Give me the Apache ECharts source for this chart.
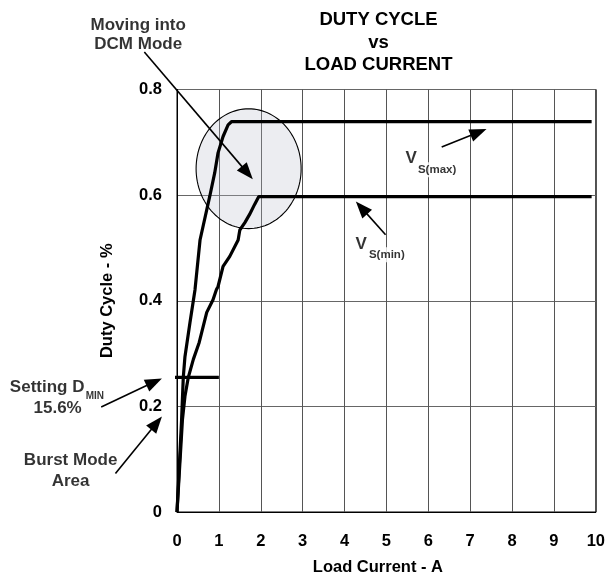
<!DOCTYPE html>
<html><head><meta charset="utf-8">
<script src="https://cdn.jsdelivr.net/npm/echarts@6/dist/echarts.min.js"></script>
<style>html,body{margin:0;padding:0;background:#fff}#c{width:608px;height:581px}</style>
</head><body><div id="c"></div><script>
// ---- data ----
const xTickLabels = ['0','1','2','3','4','5','6','7','8','9','10'];
const yTickLabels = ['0','0.2','0.4','0.6','0.8'];
const vmaxX = [0, 0.11, 0.15, 0.19, 0.31, 0.43, 0.55, 0.78, 0.90, 0.98, 1.10, 1.22, 1.30, 9.9];
const vmaxY = [0, 0.175, 0.255, 0.294, 0.359, 0.421, 0.515, 0.597, 0.642, 0.680, 0.711, 0.733, 0.739, 0.739];
const vminX = [0, 0.13, 0.19, 0.27, 0.39, 0.53, 0.59, 0.71, 0.86, 0.94, 0.98, 1.10, 1.26, 1.46, 1.50, 1.62, 1.73, 1.85, 1.95, 9.9];
const vminY = [0, 0.175, 0.219, 0.255, 0.289, 0.321, 0.340, 0.378, 0.402, 0.421, 0.427, 0.465, 0.484, 0.515, 0.534, 0.548, 0.563, 0.582, 0.597, 0.597];
const dminX = [-0.33, 1.0];
const dminY = [0.255, 0.255];
// DCM region ellipse: centre x, centre y, radius x, radius y (data units)
const dcmEllipse = [1.71, 0.650, 1.254, 0.1134];
// arrows: x1, y1, x2 (tip), y2 (tip) in data units
const arrows = [
  [-0.78, 0.871, 1.81, 0.630],
  [-1.81, 0.199, -0.36, 0.253],
  [-1.47, 0.073, -0.36, 0.181],
  [6.32, 0.691, 7.39, 0.725],
  [4.98, 0.525, 4.27, 0.588]
];
// annotation texts and anchors (data units)
const notes = [
  {text: 'Moving into\nDCM Mode', at: [-0.926, 0.904], size: 17, lh: 19.5, bg: false},
  {text: 'Setting D', at: [-3.10, 0.236], size: 17, lh: 20, bg: false},
  {text: 'MIN', at: [-1.96, 0.219], size: 10, lh: 12, bg: false},
  {text: '15.6%', at: [-2.85, 0.197], size: 17, lh: 20, bg: false},
  {text: 'Burst Mode\nArea', at: [-2.54, 0.078], size: 17, lh: 21, bg: false},
  {text: 'V', at: [5.59, 0.670], size: 17, lh: 18, bg: true},
  {text: 'S(max)', at: [6.21, 0.648], size: 11.5, lh: 13, bg: true},
  {text: 'V', at: [4.40, 0.506], size: 17, lh: 18, bg: true},
  {text: 'S(min)', at: [5.01, 0.487], size: 11.5, lh: 13, bg: true}
];
const titleText = 'DUTY CYCLE\nvs\nLOAD CURRENT';
const xName = 'Load Current - A';
const yName = 'Duty Cycle - %';

// ---- chart ----
const FONT = '"Liberation Sans", Arial, sans-serif';
const zip = (a, b) => a.map((v, i) => [v, b[i]]);
const chart = echarts.init(document.getElementById('c'), null, {renderer: 'canvas'});

function renderEllipse(params, api) {
  const c = api.coord([api.value(0), api.value(1)]);
  const sz = api.size([api.value(2), api.value(3)]);
  const rx = sz[0], ry = sz[1];
  const pts = [];
  for (let i = 0; i < 120; i++) {
    const t = i / 120 * Math.PI * 2;
    pts.push([c[0] + rx * Math.cos(t), c[1] + ry * Math.sin(t)]);
  }
  return {type: 'polygon', shape: {points: pts},
    style: {fill: 'rgba(185,190,202,0.27)', stroke: '#000', lineWidth: 1.1}};
}
function renderArrow(params, api) {
  const p1 = api.coord([api.value(0), api.value(1)]);
  const p2 = api.coord([api.value(2), api.value(3)]);
  const dx = p2[0] - p1[0], dy = p2[1] - p1[1];
  const L = Math.hypot(dx, dy), ux = dx / L, uy = dy / L;
  const hl = 17, hw = 6.5;
  const bx = p2[0] - ux * hl, by = p2[1] - uy * hl;
  return {type: 'group', children: [
    {type: 'line', shape: {x1: p1[0], y1: p1[1], x2: bx + ux * 3, y2: by + uy * 3},
      style: {stroke: '#000', lineWidth: 1.6}},
    {type: 'polygon', shape: {points: [[p2[0], p2[1]], [bx - uy * hw, by + ux * hw], [bx + uy * hw, by - ux * hw]]},
      style: {fill: '#000'}}
  ]};
}

const option = {
  animation: false,
  backgroundColor: '#fff',
  title: {
    text: titleText, left: 378.5, top: 8.75, textAlign: 'center', padding: 0,
    textStyle: {fontFamily: FONT, fontWeight: 'bold', fontSize: 18.5, lineHeight: 22.5, color: '#000'}
  },
  grid: {left: 177, right: 10, top: 89.5, bottom: 68.3, show: true, borderColor: '#000', borderWidth: 1, backgroundColor: 'transparent'},
  xAxis: {
    type: 'value', min: 0, max: 10, interval: 1,
    name: xName, nameLocation: 'middle', nameGap: 47,
    nameTextStyle: {fontFamily: FONT, fontWeight: 'bold', fontSize: 16.5, color: '#000', padding: [0, 17, 0, 0]},
    axisLine: {lineStyle: {color: '#000', width: 1}},
    axisTick: {show: false},
    axisLabel: {margin: 21, fontFamily: FONT, fontWeight: 'bold', fontSize: 16.5, color: '#000',
      formatter: v => xTickLabels[Math.round(v)]},
    splitLine: {show: true, lineStyle: {color: '#555', width: 1}}
  },
  yAxis: {
    type: 'value', min: 0, max: 0.8, interval: 0.2,
    name: yName, nameLocation: 'middle', nameGap: 61,
    nameTextStyle: {fontFamily: FONT, fontWeight: 'bold', fontSize: 16.5, color: '#000'},
    axisLine: {show: true, lineStyle: {color: '#000', width: 1}},
    axisTick: {show: false},
    axisLabel: {margin: 15, fontFamily: FONT, fontWeight: 'bold', fontSize: 16.5, color: '#000',
      formatter: v => yTickLabels[Math.round(v / 0.2)]},
    splitLine: {show: true, lineStyle: {color: '#666', width: 1}}
  },
  series: [
    {type: 'custom', name: 'dcm', renderItem: renderEllipse, data: [dcmEllipse],
      encode: {x: 0, y: 1}, clip: false, silent: true, z: 1},
    {type: 'line', name: 'Vs(max)', data: zip(vmaxX, vmaxY), showSymbol: false, symbol: 'none',
      lineStyle: {color: '#000', width: 3.2}, clip: false, z: 3},
    {type: 'line', name: 'Vs(min)', data: zip(vminX, vminY), showSymbol: false, symbol: 'none',
      lineStyle: {color: '#000', width: 3.2}, clip: false, z: 3},
    {type: 'line', name: 'Dmin', data: zip(dminX, dminY), showSymbol: false, symbol: 'none',
      lineStyle: {color: '#000', width: 3.4}, clip: false, z: 3},
    {type: 'custom', name: 'arrows', renderItem: renderArrow, data: arrows,
      encode: {x: [0, 2], y: [1, 3]}, clip: false, silent: true, z: 4},
    {type: 'scatter', name: 'notes', symbolSize: 0, clip: false, silent: true, z: 5,
      data: notes.map(n => ({
        value: n.at,
        label: {show: true, position: 'inside', formatter: n.text,
          fontFamily: FONT, fontWeight: 'bold', fontSize: n.size, lineHeight: n.lh, color: '#000',
          align: 'center', verticalAlign: 'middle',
          backgroundColor: n.bg ? '#fff' : 'transparent', padding: n.bg ? [1, 1] : 0}
      }))}
  ]
};
chart.setOption(option);
</script></body></html>
